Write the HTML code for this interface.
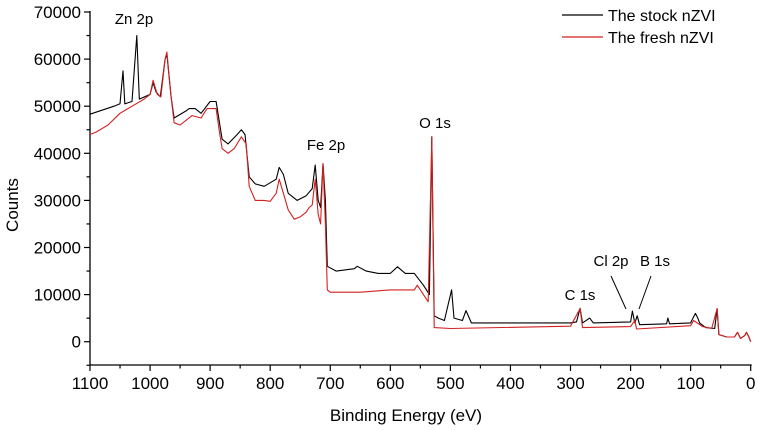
<!DOCTYPE html>
<html><head><meta charset="utf-8"><style>
html,body{margin:0;padding:0;background:#fff;}
svg{display:block;font-family:"Liberation Sans",Arial,sans-serif;}
</style></head><body>
<svg id="chart" width="759" height="430" viewBox="0 0 759 430" xmlns="http://www.w3.org/2000/svg"></svg>
<script>
const xTicks=[1100,1000,900,800,700,600,500,400,300,200,100,0];
const yTicks=[0,10000,20000,30000,40000,50000,60000,70000];
const stockE=[1100,1060,1050,1045,1042,1030,1022,1018,1000,995,990,983,975,972,965,960,940,935,925,915,900,890,885,880,870,855,848,842,835,825,810,790,785,778,770,755,740,730,725,720,716,712,708,705,690,660,655,640,620,600,588,575,560,545,535,531,527,520,510,498,494,480,474,465,300,290,284,280,268,262,200,197,193,189,185,140,138,135,100,92,88,85,75,60,56,53,40,27,22,17,10,7,3,0];
const stockC=[48300,50000,50500,57500,50500,51000,65000,51500,52500,55000,53000,52000,60000,61000,52000,47500,49000,49500,49500,48500,51000,51000,47000,43000,42000,44000,45000,44000,35000,33500,33000,34500,37000,35500,31500,30000,31000,32500,37500,30000,28500,37800,30000,16000,15000,15500,16000,15000,14500,14500,15900,14500,14500,12000,10000,43500,5500,5000,4500,11000,5000,4500,6600,4000,4000,4200,7100,4000,5000,4000,4200,6500,4000,5500,3600,3800,5000,3800,4000,6000,5000,4000,3000,2800,7000,1500,1000,1000,2000,700,1300,2000,1000,0];
const freshE=[1100,1090,1070,1050,1030,1010,1000,995,988,982,975,972,965,960,950,930,915,905,890,885,880,870,860,848,840,835,825,810,800,790,785,778,770,760,750,740,735,730,725,720,716,712,708,705,700,650,600,560,555,545,537,531,527,500,300,284,280,200,193,190,100,95,80,65,56,53,40,27,22,17,10,7,3,0];
const freshC=[44000,44500,46000,48500,50000,51500,52500,55500,52500,52000,60000,61500,52000,46500,46000,48000,47500,49500,49500,45000,41000,40000,41000,43500,42000,33000,30000,30000,29800,31500,34500,31500,28000,26000,26500,27500,28500,29000,34500,27000,25000,37800,25000,11000,10500,10500,11000,11000,12000,10000,8500,43500,3000,2800,3300,7000,3000,3200,4500,2700,3400,4500,3200,2800,7000,1500,1000,1000,2000,700,1300,2000,1000,0];
const NS="http://www.w3.org/2000/svg";
const svg=document.getElementById('chart');
const X0=90,X1=750.7,Y0=341.7,PX=4.71/1000;
const xs=e=>X1-(e/1100)*(X1-X0);
const ys=c=>Y0-c*PX;
function mk(t,a){const el=document.createElementNS(NS,t);for(const k in a)el.setAttribute(k,a[k]);svg.appendChild(el);return el;}
// axes
let ax=mk('line',{x1:X0,y1:11,x2:X0,y2:365,stroke:'#000','stroke-width':1.3});


ax=mk('line',{x1:X0,y1:365,x2:X1+1,y2:365,stroke:'#000','stroke-width':1.3});


for(let e=0;e<=1100;e+=50){const major=e%100===0;
 const t=mk('line',{x1:xs(e),y1:365,x2:xs(e),y2:365+(major?6:3.5),stroke:'#000','stroke-width':1.2});
 
 }
for(let c=-5000;c<=70000;c+=5000){const major=c%10000===0;
 const t=mk('line',{x1:X0,y1:ys(c),x2:X0-(major?6:3.5),y2:ys(c),stroke:'#000','stroke-width':1.2});
 
 }
xTicks.forEach(v=>{const t=mk('text',{x:xs(v),y:389,'font-size':17,'text-anchor':'middle'});t.textContent=v;
 
 });
yTicks.forEach(v=>{const t=mk('text',{x:81,y:ys(v)+6,'font-size':17,'text-anchor':'end'});t.textContent=v;
 
 });
let tt=mk('text',{x:406,y:421,'font-size':17,'text-anchor':'middle'});tt.textContent='Binding Energy (eV)';


tt=mk('text',{x:0,y:0,'font-size':17,'text-anchor':'middle',transform:'translate(18,205) rotate(-90)'});tt.textContent='Counts';


function series(E,C,col,name){const p=E.map((e,i)=>xs(e).toFixed(1)+','+ys(C[i]).toFixed(1)).join(' ');
 const l=mk('polyline',{points:p,fill:'none',stroke:col,'stroke-width':1.1,'stroke-linejoin':'round'});
 
 }
series(stockE,stockC,'#000','stock-nzvi-line');
series(freshE,freshC,'#d42020','fresh-nzvi-line');
const labels=[['Zn 2p',134,24],['Fe 2p',326,150],['O 1s',435,128],['C 1s',580,300],['Cl 2p',611,266],['B 1s',655,266]];
labels.forEach(a=>{const t=mk('text',{x:a[1],y:a[2],'font-size':15,'text-anchor':'middle'});t.textContent=a[0];
 
 });
let ln=mk('line',{x1:611,y1:276,x2:626,y2:309,stroke:'#000','stroke-width':1});


ln=mk('line',{x1:651,y1:276,x2:639,y2:309,stroke:'#000','stroke-width':1});


// legend
ln=mk('line',{x1:562,y1:15,x2:603,y2:15,stroke:'#000','stroke-width':1.2});


ln=mk('line',{x1:562,y1:37,x2:603,y2:37,stroke:'#d42020','stroke-width':1.2});


tt=mk('text',{x:608,y:21,'font-size':16});tt.textContent='The stock nZVI';


tt=mk('text',{x:608,y:43,'font-size':16});tt.textContent='The fresh nZVI';


</script>
</body></html>
